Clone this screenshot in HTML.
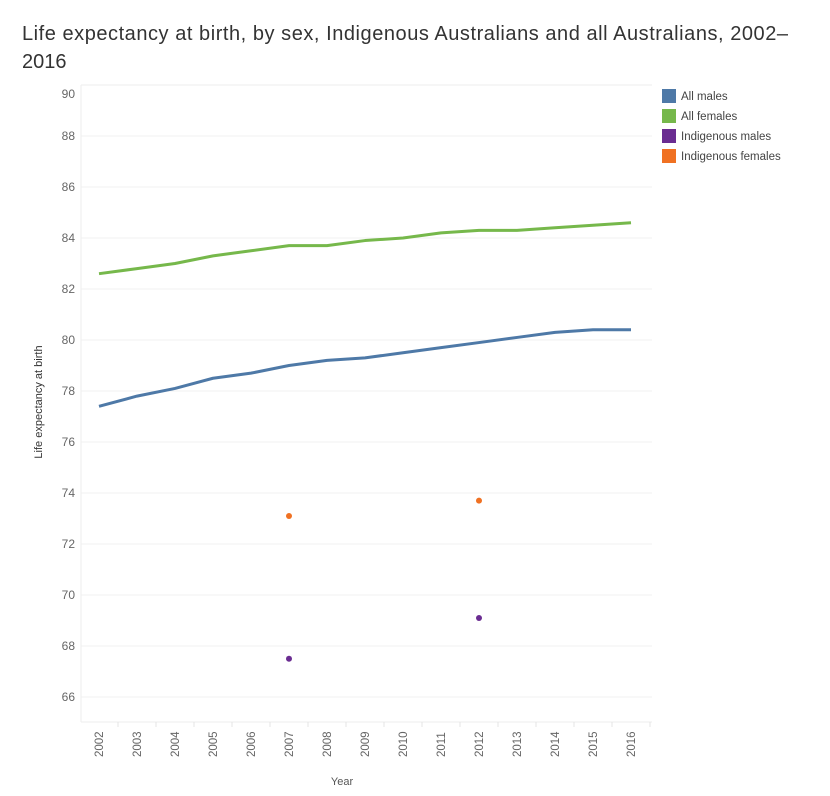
<!DOCTYPE html>
<html><head><meta charset="utf-8"><style>
body{margin:0;background:#fff;font-family:"Liberation Sans","Noto Sans CJK SC",sans-serif}
</style></head><body>
<svg width="830" height="791" id="c" xmlns="http://www.w3.org/2000/svg">
<text x="22" y="40" font-size="20" fill="#333" textLength="766" lengthAdjust="spacing">Life expectancy at birth, by sex, Indigenous Australians and all Australians, 2002–</text>
<text x="22" y="68" font-size="20" fill="#333">2016</text>
<text transform="translate(42,402) rotate(-90)" text-anchor="middle" font-size="11" fill="#333">Life expectancy at birth</text>
<text x="342" y="785" text-anchor="middle" font-size="11" fill="#555">Year</text>
<g id="legend"></g>
</svg>
<script>
const years=[2002,2003,2004,2005,2006,2007,2008,2009,2010,2011,2012,2013,2014,2015,2016];
const allMales=[77.4,77.8,78.1,78.5,78.7,79.0,79.2,79.3,79.5,79.7,79.9,80.1,80.3,80.4,80.4];
const allFemales=[82.6,82.8,83.0,83.3,83.5,83.7,83.7,83.9,84.0,84.2,84.3,84.3,84.4,84.5,84.6];
const indYears=[2007,2012];
const indMales=[67.5,69.1];
const indFemales=[73.1,73.7];
const yTicks=[66,68,70,72,74,76,78,80,82,84,86,88,90];
const legendLabels=["All males","All females","Indigenous males","Indigenous females"];
const colors=["#4e79a7","#76b84b","#6a2c91","#f07122"];
const NS="http://www.w3.org/2000/svg";
const svg=document.getElementById('c');
const L=81,R=652,T=85,B=722;
const x=yr=>99+(yr-2002)*38;
const y=v=>136+(88-v)*25.5;
function mk(t,a,p){const e=document.createElementNS(NS,t);for(const k in a)e.setAttribute(k,a[k]);(p||svg).appendChild(e);return e;}
mk('line',{x1:L,y1:T,x2:R,y2:T,stroke:'#eee'});
mk('line',{x1:L,y1:T,x2:L,y2:B,stroke:'#eee'});
mk('line',{x1:L,y1:B,x2:R,y2:B,stroke:'#eee'});
yTicks.forEach(v=>{
 if(v<90){const g=mk('line',{x1:L,y1:y(v),x2:R,y2:y(v),stroke:'#f0f0f0'});
 
 }
 const t=mk('text',{x:75,y:(v==90?94:y(v))+4,'text-anchor':'end','font-size':12,fill:'#666'});
 t.textContent=v;
 
 
});
years.forEach((yr,i)=>{
 mk('line',{x1:x(yr)+19,y1:B,x2:x(yr)+19,y2:B+5,stroke:'#e4e4e4'});
 const t=mk('text',{transform:`translate(${x(yr)+4},${B+35}) rotate(-90)`,'font-size':11.5,fill:'#666'});
 t.textContent=yr;
 
 
});
function line(vals,col,name){
 const p=mk('polyline',{points:vals.map((v,i)=>x(years[i])+','+y(v)).join(' '),fill:'none',stroke:col,'stroke-width':3,'stroke-linejoin':'round'});
 
 
}
line(allMales,colors[0],'all-males-line');
line(allFemales,colors[1],'all-females-line');
function dots(vals,col,name){
 vals.forEach((v,i)=>{
  const c=mk('circle',{cx:x(indYears[i]),cy:y(v),r:3,fill:col});
  
  
 });
}
dots(indMales,colors[2],'indigenous-males-point');
dots(indFemales,colors[3],'indigenous-females-point');
const lg=document.getElementById('legend');
legendLabels.forEach((lab,i)=>{
 const g=mk('g',{},lg);
 
 
 mk('rect',{x:662,y:89+i*20,width:14,height:14,fill:colors[i]},g);
 const t=mk('text',{x:681,y:100+i*20,'font-size':11.5,fill:'#444'},g);
 t.textContent=lab;
});
</script>
</body></html>
